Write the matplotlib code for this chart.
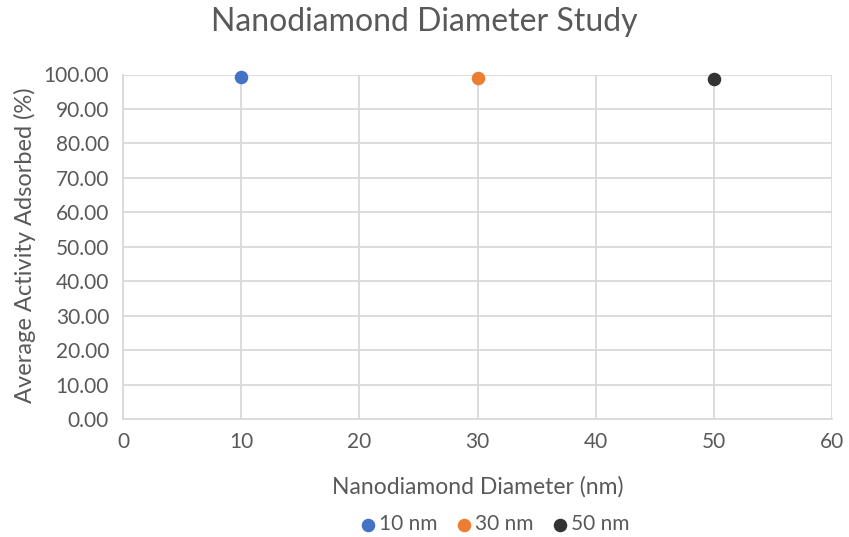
import matplotlib
matplotlib.use("Agg")
import matplotlib.pyplot as plt
from matplotlib.ticker import MultipleLocator, FormatStrFormatter

plt.rcParams['font.family'] = ['Lato', 'DejaVu Sans']

labels = ["10 nm", "30 nm", "50 nm"]
diameters = [10, 30, 50]
adsorbed = [99.2, 99.1, 98.8]
colors = ["#4472C4", "#ED7D31", "#333333"]

text_color = "#595959"
grid_color = "#D9D9D9"

W, H = 849, 537
fig = plt.figure(figsize=(W / 100, H / 100), dpi=100)
left, right, top, bottom = 123, 832, 74.5, 419
ax = fig.add_axes([left / W, 1 - bottom / H, (right - left) / W, (bottom - top) / H])

for d, v, c, lab in zip(diameters, adsorbed, colors, labels):
    ax.scatter([d], [v], s=95, color=c, label=lab, zorder=3, clip_on=False, linewidths=0)

ax.set_xlim(0, 60)
ax.set_ylim(0, 100)
ax.xaxis.set_major_locator(MultipleLocator(10))
ax.yaxis.set_major_locator(MultipleLocator(10))
ax.yaxis.set_major_formatter(FormatStrFormatter("%.2f"))
ax.grid(True, color=grid_color, linewidth=1.3)
ax.set_axisbelow(True)
for side in ["top", "right"]:
    ax.spines[side].set_visible(False)
for side in ["left", "bottom"]:
    ax.spines[side].set_color(grid_color)
    ax.spines[side].set_linewidth(1.3)
ax.tick_params(length=0, labelsize=15, colors=text_color)
ax.tick_params(axis="y", pad=10)
ax.tick_params(axis="x", pad=9)

ax.set_xlabel("Nanodiamond Diameter (nm)", fontsize=16.5, color=text_color, labelpad=18)
ax.set_ylabel("Average Activity Adsorbed (%)", fontsize=17, color=text_color, va="center")
ax.yaxis.set_label_coords((25 - left) / (right - left), (bottom - 245) / (bottom - top))
fig.text(0.5, 1 - 22 / H, "Nanodiamond Diameter Study", ha="center", va="center",
         fontsize=23, color=text_color)

leg = fig.legend(loc="center", bbox_to_anchor=(494 / W, 1 - 524 / H), ncol=3, frameon=False,
                 fontsize=15, handletextpad=0.1, columnspacing=0.8, markerscale=1.0,
                 handlelength=0.9)
for t in leg.get_texts():
    t.set_color(text_color)

fig.savefig("out.png", dpi=100)
